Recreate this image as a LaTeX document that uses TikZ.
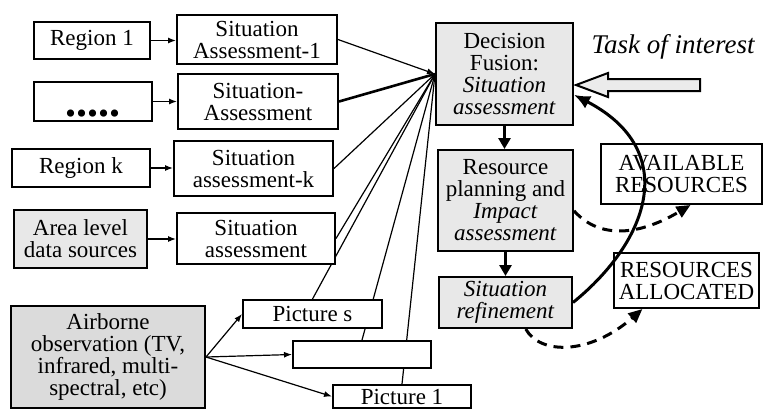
\documentclass[tikz,border=0pt]{standalone}
\usepackage{fontspec}
\setmainfont{Liberation Serif}
\usetikzlibrary{arrows.meta,calc,backgrounds}

\begin{document}
\begin{tikzpicture}[x=0.5pt,y=-0.5pt]
\tikzstyle{every node}+=[inner sep=0pt]
\tikzstyle{box}=[draw=black,line width=1pt,fill=white,align=center,font=\fontsize{11.5}{11}\selectfont]
\tikzstyle{greybox}=[box,fill=black!9]
\tikzstyle{link}=[black,line width=0.6pt]
\tikzstyle{small}=[link,-{Latex[length=4pt,width=3pt]}]
\tikzstyle{heavy}=[black,line width=1.6pt,-{Triangle[length=5.5pt,width=6pt]}]
\tikzstyle{loopback}=[black,line width=1.5pt,-{Latex[length=8pt,width=7pt]}]
\tikzstyle{feedback}=[black,line width=1.5pt,dash pattern=on 5pt off 3.5pt,-{Triangle[length=7pt,width=6pt]}]
\useasboundingbox (0,0) rectangle (763,408);
\node[box,minimum width=58pt,minimum height=18.5pt] (reg1) at (92,40.5) {Region 1};
\node[box,minimum width=59pt,minimum height=19.5pt] (dots) at (93,101.5) {\raisebox{-7.5pt}[0pt][0pt]{\fontsize{22}{22}\selectfont\bfseries .....}};
\node[box,minimum width=69pt,minimum height=19pt] (regk) at (81,168) {Region k};
\node[greybox,minimum width=66.5pt,minimum height=29pt] (area) at (80.5,239) {Area level\\data sources};
\node[box,minimum width=80pt,minimum height=24.5pt] (sa1) at (257,39.5) {Situation\\Assessment-1};
\node[box,minimum width=80pt,minimum height=27.5pt] (sa2) at (258,101.5) {Situation-\\Assessment};
\node[box,minimum width=79.5pt,minimum height=27.5pt] (sak) at (253.5,168.5) {Situation\\assessment-k};
\node[box,minimum width=79pt,minimum height=25.5pt] (saarea) at (256,238.5) {Situation\\assessment};
\node[greybox,minimum width=68.5pt,minimum height=51pt] (df) at (504.5,74) {Decision\\Fusion:\\\textit{Situation}\\\textit{assessment}};
\node[greybox,minimum width=67.5pt,minimum height=50.5pt] (rp) at (505.5,200.5) {Resource\\planning and\\\textit{Impact}\\\textit{assessment}};
\node[greybox,minimum width=66.5pt,minimum height=25.5pt] (sr) at (505.5,302.5) {\textit{Situation}\\\textit{refinement}};
\node[box,minimum width=80.5pt,minimum height=30pt] (avail) at (681.5,174) {AVAILABLE\\RESOURCES};
\node[box,minimum width=72.5pt,minimum height=27.5pt] (alloc) at (686.5,280.5) {RESOURCES\\ALLOCATED};
\node[box,fill=black!14,minimum width=97pt,minimum height=51pt] (air) at (108,357) {Airborne\\observation (TV,\\infrared, multi-\\spectral, etc)};
\node[box,minimum width=69.5pt,minimum height=14pt] (pics) at (312.5,314) {Picture s};
\node[box,minimum width=69pt,minimum height=13.5pt] (picblank) at (362,354.5) {};
\node[box,minimum width=69pt,minimum height=11.5pt] (pic1) at (402,396.5) {Picture 1};
\node[font=\fontsize{13.5}{13.5}\selectfont\itshape,anchor=base] (task) at (673,53) {Task of interest};
\draw[small] (reg1.east) -- (reg1.east -| sa1.west);
\draw[small] (dots.east) -- (dots.east -| sa2.west);
\draw[small] (regk.east) -- (regk.east -| sak.west);
\draw[small] (area.east) -- (area.east -| saarea.west);
\draw[small] (sa1.east) -- (df.west);
\draw[black,line width=1.3pt] (sa2.east) -- (df.west);
\draw[link] (sak.east) -- (df.west);
\draw[link] (saarea.east) -- (df.west);
\begin{pgfonlayer}{background}
\draw[link] (pics.north) -- (df.west);
\draw[link] (picblank.north) -- (df.west);
\draw[link] (pic1.north) -- (df.west);
\end{pgfonlayer}
\draw[small] (air.east) -- (pics.west);
\draw[small] (air.east) -- (picblank.west);
\draw[small] (air.east) -- (pic1.west);
\draw[heavy] (df.south) -- (df.south |- rp.north);
\draw[heavy] (rp.south) -- (rp.south |- sr.north);
\draw[line width=1pt,fill=black!8] ($(df.east)+(2,11)$) -- ++(32,-12) -- ++(0,6) -- ++(92,0) -- ++(0,12) -- ++(-92,0) -- ++(0,6) -- cycle;
\draw[loopback] (sr.east) .. controls (650,240) and (680,150) .. ($(df.east)!0.4!(df.south east)$);
\draw[feedback] ($(rp.east)!0.2!(rp.south east)$) .. controls (600,240) and (640,235) .. ($(avail.south)+(9,0)$);
\draw[feedback] ($(sr.south)!0.3!(sr.south east)$) .. controls (540,355) and (590,355) .. ($(alloc.south west)!0.2!(alloc.south east)$);
\end{tikzpicture}
\end{document}
